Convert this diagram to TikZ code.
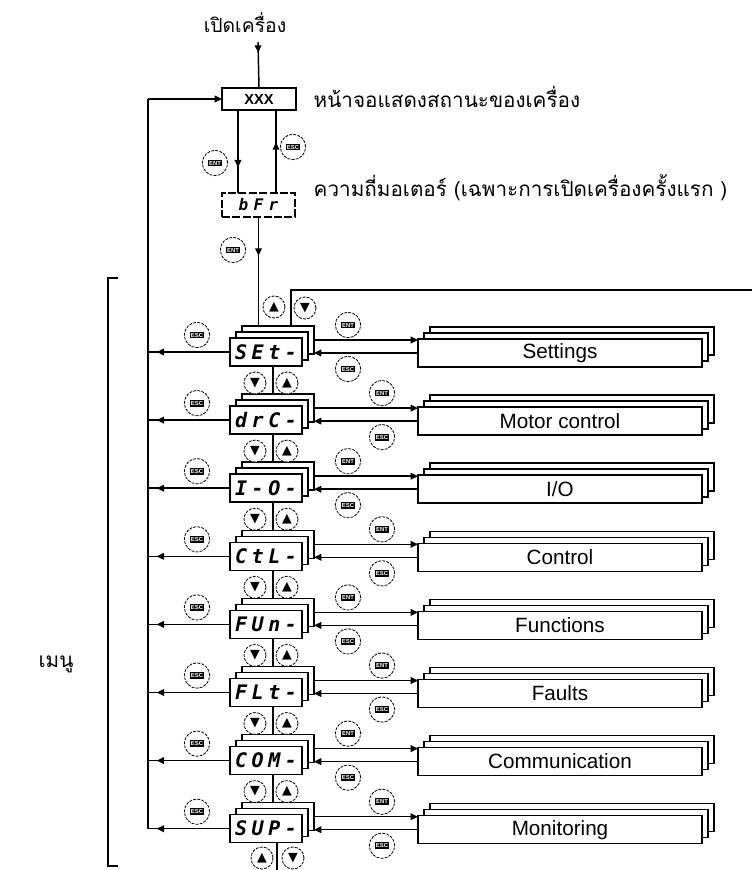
\documentclass[tikz,border=0pt]{standalone}
\usepackage{fontspec}
\setmainfont{Liberation Sans}
\newfontfamily\thaifont[Script=Thai]{Loma}
\newfontfamily\symfont{DejaVu Sans}
\newfontfamily\segfont{DejaVu Sans Mono}
\usetikzlibrary{arrows.meta,decorations.markings}
\makeatletter
\newdimen\segk \segk=3.4pt
\def\segtxt#1{\seg@loop#1\relax\unkern}
\def\seg@loop#1{\ifx#1\relax\else#1\kern\segk\expandafter\seg@loop\fi}
\makeatother
\newcommand\btnlabel[1]{{\setlength{\fboxsep}{1pt}\colorbox{black}{\textcolor{white}{\fontsize{4.4}{5}\selectfont\bfseries #1}}}}
\newcommand\enttxt{\btnlabel{ENT}}
\newcommand\esctxt{\btnlabel{ESC}}
\newcommand\uptxt{{\symfont\fontsize{9.5}{9.5}\selectfont ▲}}
\newcommand\dntxt{{\symfont\fontsize{9.5}{9.5}\selectfont ▼}}
\tikzset{
  tri/.tip={Triangle[length=5.5pt,width=5pt]},
  ar/.style={decoration={markings,mark=at position #1 with {\arrow{tri}}},postaction={decorate}},
  disp/.style={draw,fill=white,minimum width=54pt,minimum height=21pt,inner sep=0pt,outer sep=0pt,
     font=\segfont\bfseries\itshape\fontsize{15}{15}\selectfont},
  rbox/.style={draw,fill=white,minimum width=213pt,minimum height=21pt,inner sep=0pt,outer sep=0pt,
     font=\fontsize{15.5}{16}\selectfont},
  btn/.style={circle,draw,line width=0.6pt,dash pattern=on 2.2pt off 0.9pt,fill=white,minimum size=19pt,inner sep=0pt},
  abtn/.style={btn,minimum size=16.5pt},
  thai/.style={font=\thaifont\fontsize{15.5}{17}\selectfont,inner sep=0pt}
}
\newcommand\menurow[5]{%
  \node[disp] (sb#1) at (278,#2+2) {};
  \node[disp] (sm#1) at (272,#2+8) {};
  \node[disp] (s#1) at (266,#2+14) {\segtxt{#3}};
  \node[rbox] (rb#1) at (572,#2+3) {};
  \node[rbox] (rm#1) at (566,#2+9) {};
  \node[rbox] (r#1) at (560,#2+15) {#4};
  \coordinate (L#1) at (148,#2+14);
  \draw[ar=55pt] (s#1.west) -- (L#1);
  \draw[-tri] (sb#1.east) -- (sb#1.east -| r#1.west);
  \draw[-tri] (r#1.west) -- (r#1.west -| sb#1.east);
  \node[btn] (le#1) at (197,#2-3) {\esctxt};
  \node[btn] (re#1) at (#5,#2-13) {\enttxt};
  \node[btn] (rx#1) at (#5,#2+31) {\esctxt};
}
\newcommand\rowlink[3]{%
  \draw ([xshift=5.25pt]s#1.south) -- ([xshift=-3.75pt]sb#2.north);
  \node[abtn] (dn#1) at (255,#3+45) {\dntxt};
  \node[abtn] (up#1) at (287,#3+45) {\uptxt};
}
\begin{document}
\begin{tikzpicture}[x=0.75pt,y=-0.75pt,line width=1.1pt]
\useasboundingbox (0,0) rectangle (752,870);
\fill[white] (0,0) rectangle (752,870);

% top part
\node[thai,font=\thaifont\fontsize{14.5}{16}\selectfont] (power) at (245,23) {เปิดเครื่อง};
\coordinate (pw) at (258,42);
\node[draw,fill=white,minimum width=55.5pt,minimum height=16.5pt,inner sep=0pt,outer sep=0pt,
      font=\bfseries\fontsize{11}{11}\selectfont] (xxx) at (259,99) {XXX};
\draw[ar=8pt] (pw) -- (xxx.north);
\node[thai,anchor=west] (status) at (313,97) {หน้าจอแสดงสถานะของเครื่อง};
\node[draw,dash pattern=on 6pt off 1.8pt,fill=white,minimum width=54.75pt,minimum height=18pt,
      inner sep=0pt,outer sep=0pt,font=\segfont\bfseries\itshape\fontsize{12}{12}\selectfont]
      (bfr) at (258.5,205) {b\kern4pt F\kern4pt r};
\node[thai,anchor=west] (freq) at (313,188) {ความถี่มอเตอร์ (เฉพาะการเปิดเครื่องครั้งแรก )};

\draw[ar=43pt] ([xshift=-15.75pt]xxx.south) -- ([xshift=-15.75pt]xxx.south |- bfr.north);
\draw[ar=38pt] ([xshift=12.75pt]xxx.south |- bfr.north) -- ([xshift=12.75pt]xxx.south);
\node[btn] (ent0) at (215,163) {\enttxt};
\node[btn] (esc0) at (293,147) {\esctxt};

% menu rows
\menurow{0}{338}{SEt-}{Settings}{348}
\menurow{1}{406.1}{drC-}{Motor control}{382}
\menurow{2}{474.2}{I-O-}{I/O}{348}
\menurow{3}{542.3}{CtL-}{Control}{382}
\menurow{4}{610.4}{FUn-}{Functions}{348}
\menurow{5}{678.5}{FLt-}{Faults}{382}
\menurow{6}{746.6}{COM-}{Communication}{348}
\menurow{7}{814.7}{SUP-}{Monitoring}{382}

\rowlink{0}{1}{338}
\rowlink{1}{2}{406.1}
\rowlink{2}{3}{474.2}
\rowlink{3}{4}{542.3}
\rowlink{4}{5}{610.4}
\rowlink{5}{6}{678.5}
\rowlink{6}{7}{746.6}

% link from bFr into the menu
\draw[ar=29pt] (bfr.south) -- (bfr.south |- sb0.north);
\node[btn] (ent1) at (233,250) {\enttxt};
\coordinate (topR) at (752,290);
\draw ([xshift=9.75pt]sb0.north) |- (topR);
\node[abtn] (up0) at (274,307) {\uptxt};
\node[abtn] (dn0) at (305,308) {\dntxt};

% bottom
\coordinate (bot) at (277,870);
\draw ([xshift=8.25pt]s7.south) -- (bot);
\node[abtn] (up8) at (262,858) {\uptxt};
\node[abtn] (dn8) at (293,858) {\dntxt};

% left return line
\coordinate (Ltop) at (148,99);
\draw (L7) -- (Ltop);
\draw[-tri] (Ltop) -- (xxx.west);

% bracket and menu label
\draw (118,278) -- (108,278) -- (108,866) -- (118,866);
\node[thai] (menu) at (56,664) {เมนู};
\end{tikzpicture}
\end{document}
